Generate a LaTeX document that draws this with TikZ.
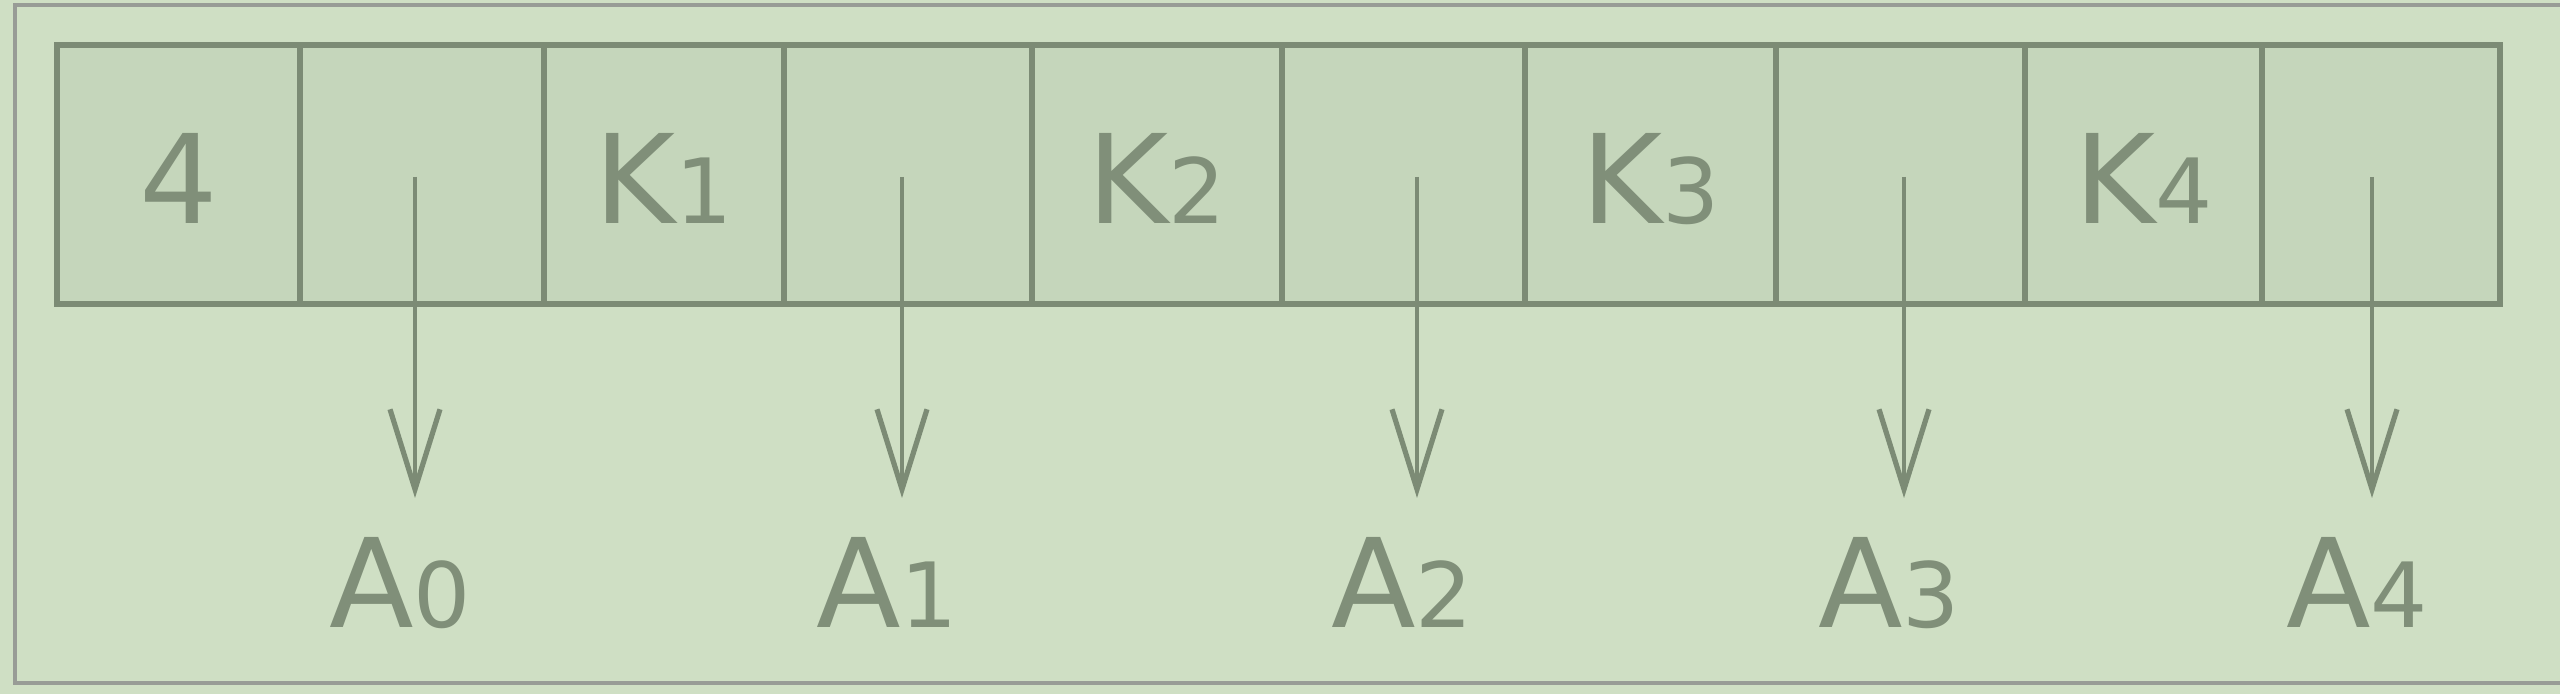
\documentclass[tikz,border=0pt]{standalone}
\usepackage{fontspec}
\setmainfont{DejaVu Sans}
\usetikzlibrary{arrows.meta}
\definecolor{bggreen}{RGB}{207,223,196}
\definecolor{cellfill}{RGB}{197,214,187}
\definecolor{linegreen}{RGB}{124,139,117}
\definecolor{textgreen}{RGB}{128,143,121}
\definecolor{framegray}{RGB}{152,156,150}
\newcommand{\bigtxt}{\fontsize{30.9pt}{36pt}\selectfont}
\newcommand{\subdig}[1]{{\fontsize{22.5pt}{26pt}\selectfont #1}}
\tikzset{
  cellbox/.style={draw=linegreen, fill=cellfill, line width=1.5pt, inner sep=0pt, outer sep=0pt,
    minimum height=64.75pt, anchor=west, text=textgreen, text height=24.3pt, text depth=0pt,
    font=\bigtxt},
  ptr/.style={draw=linegreen, line width=1.2pt, -{Straight Barb[length=20pt,width=12.5pt,line width=1.3pt]}},
  lbl/.style={anchor=base, text=textgreen, font=\bigtxt, inner sep=0pt},
  frame/.style={draw=framegray, line width=0.8pt}
}
\begin{document}
\begin{tikzpicture}[x=0.25pt, y=-0.25pt]
\fill[bggreen] (0,0) rectangle (2560,694);
\useasboundingbox (0,0) rectangle (2560,694);
\draw[frame] (15,5) rectangle (2580,683);
% cells
\node[cellbox, minimum width=60.75pt] (c1) at (57,174.5) {4};
\node[cellbox, minimum width=61pt] (c2) at (300,174.5) {};
\node[cellbox, minimum width=60pt] (c3) at (544,174.5) {K\subdig{1}};
\node[cellbox, minimum width=62pt] (c4) at (784,174.5) {};
\node[cellbox, minimum width=62.5pt] (c5) at (1032,174.5) {K\subdig{2}};
\node[cellbox, minimum width=60.75pt] (c6) at (1282,174.5) {};
\node[cellbox, minimum width=62.75pt] (c7) at (1525,174.5) {K\subdig{3}};
\node[cellbox, minimum width=62.25pt] (c8) at (1776,174.5) {};
\node[cellbox, minimum width=59.25pt] (c9) at (2025,174.5) {K\subdig{4}};
\node[cellbox, minimum width=59.5pt] (c10) at (2262,174.5) {};
% arrow endpoints
\coordinate (s0) at (415,177);  \coordinate (e0) at (415,498);
\coordinate (s1) at (902,177);  \coordinate (e1) at (902,498);
\coordinate (s2) at (1417,177); \coordinate (e2) at (1417,498);
\coordinate (s3) at (1904,177); \coordinate (e3) at (1904,498);
\coordinate (s4) at (2372,177); \coordinate (e4) at (2372,498);
\draw[ptr] (s0) -- (e0);
\draw[ptr] (s1) -- (e1);
\draw[ptr] (s2) -- (e2);
\draw[ptr] (s3) -- (e3);
\draw[ptr] (s4) -- (e4);
% labels
\node[lbl] (a0) at (400,628) {A\subdig{0}};
\node[lbl] (a1) at (887,628) {A\subdig{1}};
\node[lbl] (a2) at (1402,628) {A\subdig{2}};
\node[lbl] (a3) at (1889,628) {A\subdig{3}};
\node[lbl] (a4) at (2357,628) {A\subdig{4}};
\end{tikzpicture}
\end{document}
